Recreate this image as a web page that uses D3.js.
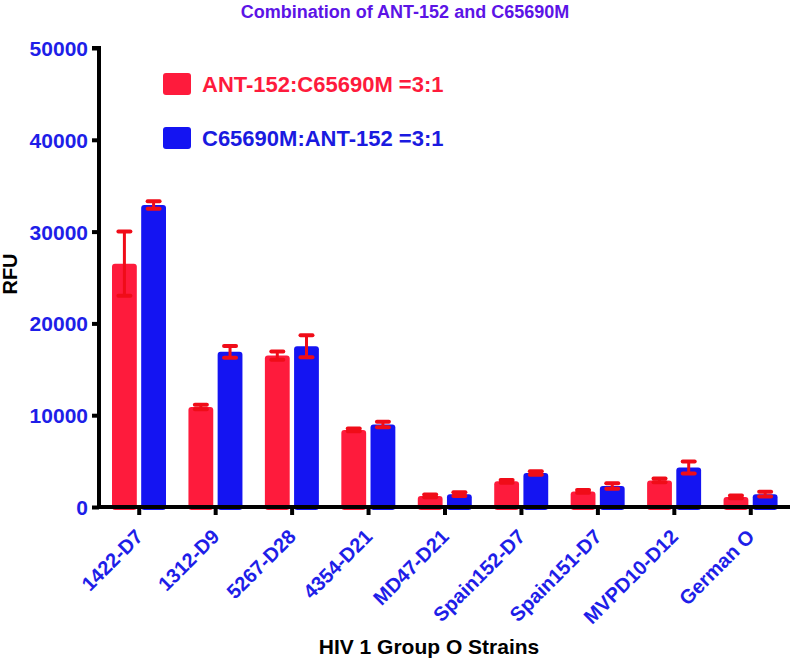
<!DOCTYPE html>
<html>
<head>
<meta charset="utf-8">
<script src="https://cdn.jsdelivr.net/npm/d3@7"></script>
<style>
body { margin: 0; background: #fff; }
text { font-family: "Liberation Sans", Arial, sans-serif; font-weight: bold; }
</style>
</head>
<body>
<div id="chart"></div>
<script>
var strains = ["1422-D7", "1312-D9", "5267-D28", "4354-D21", "MD47-D21", "Spain152-D7", "Spain151-D7", "MVPD10-D12", "German O"];
var seriesNames = ["ANT-152:C65690M =3:1", "C65690M:ANT-152 =3:1"];
var antValues = [26500, 10900, 16500, 8400, 1200, 2800, 1700, 2900, 1100];
var antErrors = [3500, 250, 450, 150, 150, 150, 150, 200, 150];
var cValues = [32900, 16900, 17500, 9000, 1400, 3700, 2300, 4300, 1400];
var cErrors = [400, 650, 1200, 300, 200, 200, 300, 650, 250];
var yTicks = [0, 10000, 20000, 30000, 40000, 50000];

var width = 792, height = 659;
var red = "#fe1b3c", blue = "#1414f2", errColor = "#f00c18";
var tickBlue = "#1e1ee8";

var svg = d3.select("#chart").append("svg")
    .attr("width", width)
    .attr("height", height);

var y = d3.scaleLinear().domain([0, 50000]).range([507, 48]);
var x = d3.scaleBand().domain(strains).range([101, 789]).padding(0);
var sub = d3.scaleBand().domain([0, 1]).range([11, 65]).paddingInner(0.15);

var rows = strains.map(function(s, i) {
    return {
        name: s,
        bars: [
            {k: 0, v: antValues[i], e: antErrors[i], color: red},
            {k: 1, v: cValues[i], e: cErrors[i], color: blue}
        ]
    };
});

// bars
var groups = svg.selectAll(".grp")
    .data(rows)
    .enter()
    .append("g")
    .attr("class", "grp")
    .attr("transform", function(d) { return "translate(" + x(d.name) + ",0)"; });

groups.selectAll("rect")
    .data(function(d) { return d.bars; })
    .enter()
    .append("rect")
    .attr("x", function(d) { return sub(d.k); })
    .attr("width", sub.bandwidth())
    .attr("y", function(d) { return y(d.v); })
    .attr("height", function(d) { return y(0) - y(d.v) + 3; })
    .attr("rx", 3)
    .attr("fill", function(d) { return d.color; });

// error bars
var err = groups.selectAll(".err")
    .data(function(d) { return d.bars; })
    .enter()
    .append("g")
    .attr("class", "err")
    .attr("stroke", errColor);

err.append("line")
    .attr("x1", function(d) { return sub(d.k) + sub.bandwidth() / 2; })
    .attr("x2", function(d) { return sub(d.k) + sub.bandwidth() / 2; })
    .attr("y1", function(d) { return y(d.v + d.e); })
    .attr("y2", function(d) { return y(d.v - d.e); })
    .attr("stroke-width", 3);

[1, -1].forEach(function(sign) {
    err.append("line")
        .attr("x1", function(d) { return sub(d.k) + sub.bandwidth() / 2 - 6; })
        .attr("x2", function(d) { return sub(d.k) + sub.bandwidth() / 2 + 6; })
        .attr("y1", function(d) { return y(d.v + sign * d.e); })
        .attr("y2", function(d) { return y(d.v + sign * d.e); })
        .attr("stroke-width", 4)
        .attr("stroke-linecap", "round");
});

// axes
var yAxis = svg.append("g")
    .attr("transform", "translate(99,0)")
    .call(d3.axisLeft(y).tickValues(yTicks).tickSize(7).tickPadding(4).tickFormat(d3.format("d")));
yAxis.select(".domain").attr("stroke", "#000").attr("stroke-width", 4)
    .attr("d", "M-7,48H0V509");
yAxis.selectAll(".tick line").attr("stroke", "#000").attr("stroke-width", 4);
yAxis.selectAll(".tick text")
    .attr("fill", tickBlue)
    .attr("font-size", 21)
    .attr("dy", "0.36em");

var xAxis = svg.append("g")
    .attr("transform", "translate(0,507)")
    .call(d3.axisBottom(x).tickSize(8).tickSizeOuter(0));
xAxis.select(".domain").attr("stroke", "#000").attr("stroke-width", 4)
    .attr("d", "M97,0H790");
xAxis.selectAll(".tick line").attr("stroke", "#000").attr("stroke-width", 4);
xAxis.selectAll(".tick text")
    .attr("fill", tickBlue)
    .attr("font-size", 20)
    .attr("text-anchor", "end")
    .attr("dy", 0)
    .attr("y", 0)
    .attr("transform", "translate(5,31) rotate(-45)");

// titles
svg.append("text")
    .attr("x", 405)
    .attr("y", 18)
    .attr("text-anchor", "middle")
    .attr("font-size", 18)
    .attr("fill", "#5c14e6")
    .text("Combination of ANT-152 and C65690M");

svg.append("text")
    .attr("transform", "translate(17,274) rotate(-90)")
    .attr("text-anchor", "middle")
    .attr("font-size", 20)
    .attr("fill", "#000")
    .text("RFU");

svg.append("text")
    .attr("x", 429)
    .attr("y", 654)
    .attr("text-anchor", "middle")
    .attr("font-size", 21)
    .attr("fill", "#000")
    .text("HIV 1 Group O Strains");

// legend
var legend = svg.selectAll(".legend")
    .data(seriesNames)
    .enter()
    .append("g")
    .attr("class", "legend")
    .attr("transform", function(d, i) { return "translate(163," + (73 + i * 54) + ")"; });

legend.append("rect")
    .attr("width", 28)
    .attr("height", 22)
    .attr("rx", 3)
    .attr("fill", function(d, i) { return i == 0 ? red : blue; });

legend.append("text")
    .attr("x", 39)
    .attr("y", 19)
    .attr("font-size", 22)
    .attr("fill", function(d, i) { return i == 0 ? red : "#1a1ae0"; })
    .text(function(d) { return d; });
</script>
</body>
</html>
